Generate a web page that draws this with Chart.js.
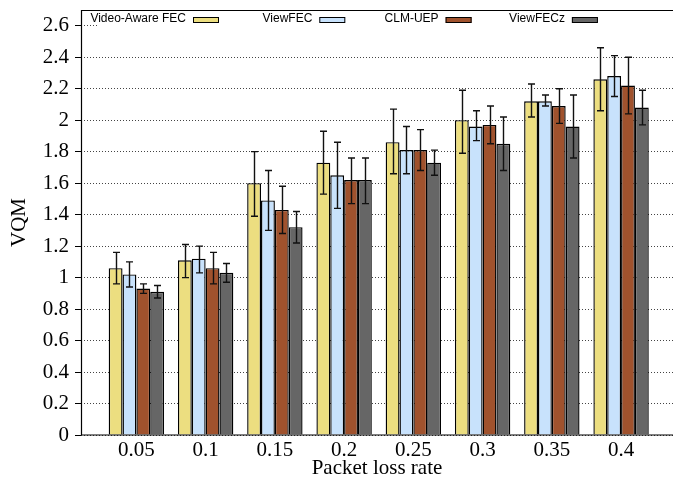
<!DOCTYPE html>
<html>
<head>
<meta charset="utf-8">
<script src="https://cdn.jsdelivr.net/npm/chart.js@4.4.1/dist/chart.umd.min.js"></script>
<style>
html, body { margin:0; padding:0; background:#fff; }
#wrap { width:673px; height:481px; }
</style>
</head>
<body>
<div id="wrap"><canvas id="grafico"></canvas></div>
<script>

const categorias = ["0.05","0.1","0.15","0.2","0.25","0.3","0.35","0.4"];

const seriesNombres = ["Video-Aware FEC","ViewFEC","CLM-UEP","ViewFECz"];

const videoAware   = [1.06,1.11,1.60,1.73,1.86,2.00,2.12,2.26];
const videoAwareLo = [0.96,1.00,1.39,1.53,1.66,1.79,2.02,2.06];
const videoAwareHi = [1.16,1.21,1.80,1.93,2.07,2.19,2.23,2.46];

const viewFec   = [1.02,1.12,1.49,1.65,1.81,1.96,2.12,2.28];
const viewFecLo = [0.94,1.03,1.30,1.44,1.66,1.87,2.09,2.15];
const viewFecHi = [1.10,1.20,1.68,1.86,1.96,2.06,2.16,2.41];

const clmUep   = [0.93,1.06,1.43,1.62,1.81,1.97,2.09,2.22];
const clmUepLo = [0.90,0.96,1.28,1.47,1.68,1.85,1.98,2.04];
const clmUepHi = [0.96,1.16,1.58,1.76,1.94,2.09,2.20,2.40];

const viewFecz   = [0.91,1.03,1.32,1.62,1.73,1.85,1.96,2.08];
const viewFeczLo = [0.87,0.97,1.22,1.47,1.65,1.68,1.76,1.97];
const viewFeczHi = [0.95,1.09,1.42,1.76,1.81,2.02,2.16,2.19];

const yTicks = [0,0.2,0.4,0.6,0.8,1,1.2,1.4,1.6,1.8,2,2.2,2.4,2.6];

const colores = ["#ecde80","#c8e2fc","#a0522d","#666666"];

const valores = [videoAware, viewFec, clmUep, viewFecz];
const bajos   = [videoAwareLo, viewFecLo, clmUepLo, viewFeczLo];
const altos   = [videoAwareHi, viewFecHi, clmUepHi, viewFeczHi];

const serif = "'Liberation Serif', 'Times New Roman', serif";
const sans  = "'Liberation Sans', Arial, sans-serif";

// error bars from the lo/hi arrays, through the y scale
const barrasError = {
    id:"barrasError",
    afterDatasetsDraw(chart){
        const ctx = chart.ctx;
        const y = chart.scales.y;
        ctx.save();
        ctx.strokeStyle = "#111";
        ctx.lineWidth = 1.4;
        chart.data.datasets.forEach((ds, d) => {
            const meta = chart.getDatasetMeta(d);
            meta.data.forEach((bar, i) => {
                const x = Math.round(bar.x) + 0.5;
                const y1 = y.getPixelForValue(bajos[d][i]);
                const y2 = y.getPixelForValue(altos[d][i]);
                ctx.beginPath();
                ctx.moveTo(x, y1); ctx.lineTo(x, y2);
                ctx.moveTo(x - 3.5, y1); ctx.lineTo(x + 3.5, y1);
                ctx.moveTo(x - 3.5, y2); ctx.lineTo(x + 3.5, y2);
                ctx.stroke();
            });
        });
        ctx.restore();
    }
};

// gnuplot-like key inside the plot, plus the frame (no right side)
const leyenda = {
    id:"leyenda",
    afterDraw(chart){
        const ctx = chart.ctx;
        const a = chart.chartArea;
        ctx.save();

        ctx.fillStyle = "#fff";
        ctx.fillRect(a.left + 18, a.top + 1, a.right - a.left - 18, 18);

        ctx.font = "12px " + sans;
        ctx.textAlign = "right";
        ctx.textBaseline = "middle";
        chart.data.datasets.forEach((ds, d) => {
            const derecha = a.left + 138 + d * 126.3;
            const izq = derecha - 26;
            ctx.fillStyle = "#000";
            ctx.fillText(ds.label, izq - 7, a.top + 9);
            ctx.fillStyle = ds.backgroundColor;
            ctx.fillRect(izq, a.top + 7, 26, 6);
            ctx.strokeStyle = "#000";
            ctx.lineWidth = 1;
            ctx.strokeRect(izq + 0.5, a.top + 7.5, 25, 5);
        });

        ctx.strokeStyle = "#000";
        ctx.lineWidth = 1.2;
        ctx.setLineDash([]);
        ctx.beginPath();
        ctx.moveTo(a.right, a.top + 0.5);
        ctx.lineTo(a.left + 0.5, a.top + 0.5);
        ctx.lineTo(a.left + 0.5, a.bottom);
        ctx.lineTo(a.right, a.bottom);
        ctx.stroke();
        ctx.restore();
    }
};

new Chart(
    document.getElementById("grafico"),
    {
        type:"bar",
        data:{
            datasets: seriesNombres.map((nombre, d) => ({
                label: nombre,
                data: valores[d].map((v, i) => ({ x: i, y: v })),
                backgroundColor: colores[d],
                borderColor: "#000",
                borderWidth: 1.4,
                categoryPercentage: 0.8,
                barPercentage: 1.0
            }))
        },
        options:{
            responsive:true,
            maintainAspectRatio:false,
            animation:false,
            layout:{ padding:{ top:10, right:0, left:0, bottom:0 } },
            plugins:{
                legend:{ display:false },
                tooltip:{ enabled:false }
            },
            scales:{
                x:{
                    type:"linear",
                    offset:false,
                    min:-0.8,
                    max:7.75,
                    afterBuildTicks(scale){
                        scale.ticks = categorias.map((c, i) => ({ value: i }));
                    },
                    afterFit(scale){
                        scale.height = 46;
                        scale.paddingLeft = 0;
                        scale.paddingRight = 0;
                    },
                    ticks:{
                        callback: v => categorias[Math.round(v)],
                        color:"#000",
                        font:{ family: serif, size: 21 },
                        padding: 3,
                        maxRotation: 0,
                        autoSkip: false
                    },
                    grid:{ display:false, drawTicks:false },
                    border:{ display:false },
                    title:{
                        display:true,
                        text:"Packet loss rate",
                        color:"#000",
                        font:{ family: serif, size: 21 },
                        padding:{ top:0, bottom:0 }
                    }
                },
                y:{
                    min:0,
                    max:2.7,
                    afterBuildTicks(scale){
                        scale.ticks = yTicks.map(v => ({ value: v }));
                    },
                    afterFit(scale){
                        scale.width = 81;
                        scale.paddingTop = 0;
                        scale.paddingBottom = 0;
                    },
                    ticks:{
                        callback: v => String(Math.round(v * 10) / 10),
                        color:"#000",
                        font:{ family: serif, size: 21 },
                        padding: 6
                    },
                    grid:{
                        color:"#444",
                        lineWidth:1,
                        tickLength:6,
                        tickColor:"#000",
                        tickBorderDash:[]
                    },
                    border:{ display:false, dash:[1,2] },
                    title:{
                        display:true,
                        text:"VQM",
                        color:"#000",
                        font:{ family: serif, size: 21 },
                        padding:{ top:7, bottom:0 }
                    }
                }
            }
        },
        plugins:[barrasError, leyenda]
    }
);

</script>
</body>
</html>
